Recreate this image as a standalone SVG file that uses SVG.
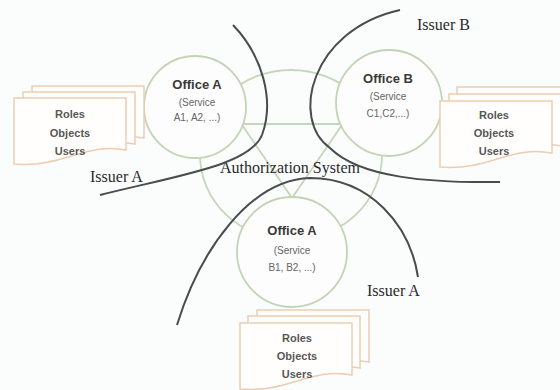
<svg xmlns="http://www.w3.org/2000/svg" width="560" height="390" viewBox="0 0 560 390" xmlns:xlink="http://www.w3.org/1999/xlink">
<defs>
<style>
.green{fill:none;stroke:#c6d6ba;stroke-width:1.8}
.office{fill:#fcfdfc;stroke:#c3d4b6;stroke-width:1.8}
.issuer{fill:none;stroke:#474c4e;stroke-width:2}
.doc{fill:#fffefc;stroke:#eccdb2;stroke-width:1.5}
.serif{font-family:"Liberation Serif","Times New Roman",serif;font-size:16px;fill:#2a2a2a}
.ot{font-family:"Liberation Sans",Arial,sans-serif;font-weight:bold;font-size:13px;fill:#3a3a3a;text-anchor:middle}
.st{font-family:"Liberation Sans",Arial,sans-serif;font-size:10px;fill:#666;text-anchor:middle}
.dt{font-family:"Liberation Sans",Arial,sans-serif;font-weight:bold;font-size:11px;fill:#575757;text-anchor:middle}
</style>
<path id="doc" d="M0,0 H112 V52 C70,44 50,70 0,66 Z"/>
</defs>
<rect x="0" y="0" width="560" height="390" fill="#fbfcfc"/>

<g id="authorization-system">
<ellipse class="green" cx="291" cy="155" rx="91" ry="85"/>
<line class="green" x1="230" y1="124" x2="352" y2="124"/>
<line class="green" x1="240" y1="122" x2="292" y2="198"/>
<line class="green" x1="344" y1="122" x2="292" y2="198"/>
<text class="serif" x="220" y="173">Authorization System</text>
</g>

<g id="office-a-top">
<circle class="office" cx="195" cy="107" r="51"/>
<text class="ot" x="197" y="89">Office A</text>
<text class="st" x="197" y="106">(Service</text>
<text class="st" x="197" y="121">A1, A2, ...)</text>
</g>

<g id="office-b">
<circle class="office" cx="389" cy="103" r="53"/>
<text class="ot" x="388" y="83">Office B</text>
<text class="st" x="388" y="100">(Service</text>
<text class="st" x="388" y="117">C1,C2,...)</text>
</g>

<g id="office-a-bottom">
<circle class="office" cx="292" cy="252" r="55"/>
<text class="ot" x="292" y="235">Office A</text>
<text class="st" x="292" y="254">(Service</text>
<text class="st" x="292" y="271">B1, B2, ...)</text>
</g>

<g id="docs-left">
<use xlink:href="#doc" class="doc" x="32" y="86"/>
<use xlink:href="#doc" class="doc" x="23" y="92"/>
<use xlink:href="#doc" class="doc" x="14" y="98"/>
<text class="dt" x="70" y="118">Roles</text>
<text class="dt" x="70" y="137">Objects</text>
<text class="dt" x="70" y="155">Users</text>
</g>

<g id="docs-right">
<use xlink:href="#doc" class="doc" x="457" y="87"/>
<use xlink:href="#doc" class="doc" x="449" y="94"/>
<use xlink:href="#doc" class="doc" x="440" y="101"/>
<text class="dt" x="494" y="119">Roles</text>
<text class="dt" x="494" y="137">Objects</text>
<text class="dt" x="494" y="155">Users</text>
</g>

<g id="docs-bottom">
<use xlink:href="#doc" class="doc" x="257" y="310"/>
<use xlink:href="#doc" class="doc" x="248" y="316"/>
<use xlink:href="#doc" class="doc" x="240" y="323"/>
<text class="dt" x="297" y="342">Roles</text>
<text class="dt" x="297" y="360">Objects</text>
<text class="dt" x="297" y="378">Users</text>
</g>

<g id="connectors">
<path class="issuer" d="M233,25 C262,55 275,100 262,135 C250,165 180,175 100,195"/>
<path class="issuer" d="M400,10 C310,30 290,120 330,148 C360,178 430,183 500,182"/>
<path class="issuer" d="M177,325 C200,250 250,180 310,178 C370,178 410,225 418,277"/>
</g>

<g id="labels">
<text class="serif" x="90" y="182">Issuer A</text>
<text class="serif" x="417" y="30">Issuer B</text>
<text class="serif" x="367" y="296">Issuer A</text>
</g>
</svg>
